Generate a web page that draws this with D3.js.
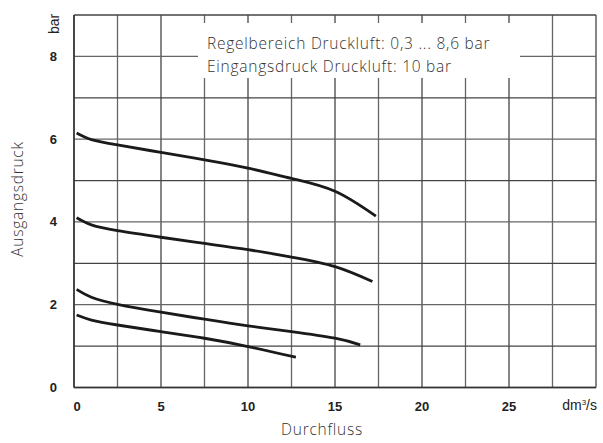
<!DOCTYPE html>
<html><head><meta charset="utf-8">
<script src="https://cdn.jsdelivr.net/npm/d3@7"></script>
<style>body{margin:0;background:#fff}svg{display:block}</style>
</head><body>
<script>
// Data
const flow1 = [0.15, 1, 2.5, 5, 7.5, 10, 12.5, 15, 17.35];
const press1 = [6.15, 5.99, 5.86, 5.68, 5.50, 5.30, 5.05, 4.74, 4.14];
const flow2 = [0.15, 1, 2.5, 5, 7.5, 10, 12.5, 15, 17.15];
const press2 = [4.10, 3.93, 3.79, 3.63, 3.48, 3.33, 3.15, 2.92, 2.56];
const flow3 = [0.15, 1, 2.5, 5, 7.5, 10, 12.5, 15, 16.45];
const press3 = [2.37, 2.18, 2.01, 1.82, 1.65, 1.49, 1.35, 1.19, 1.03];
const flow4 = [0.15, 1, 2.5, 5, 7.5, 10, 12.75];
const press4 = [1.75, 1.63, 1.51, 1.35, 1.19, 0.99, 0.73];
const xTicks = [0, 5, 10, 15, 20, 25];
const yTicks = [0, 2, 4, 6, 8];
const xGrid = d3.range(0, 30.01, 2.5);
const yGrid = d3.range(0, 9.01, 1);
const noteLines = ["Regelbereich Druckluft: 0,3 ... 8,6 bar", "Eingangsdruck Druckluft: 10 bar"];

const W = 603, H = 443;
const svg = d3.select("body").append("svg").attr("width", W).attr("height", H);
const x = d3.scaleLinear().domain([0, 30]).range([74, 596]);
const y = d3.scaleLinear().domain([0, 9]).range([387.5, 15]);
const lightFont = "'Open Sans', sans-serif";

// grid
const g = svg.append("g");
g.selectAll("line.v").data(xGrid).join("line")
  .attr("x1", d => x(d)).attr("x2", d => x(d))
  .attr("y1", y(0)).attr("y2", y(9))
  .attr("stroke", (d,i) => i % 2 ? "#666" : "#444").attr("stroke-width", 1.3);
g.selectAll("line.h").data(yGrid).join("line")
  .attr("x1", x(0)).attr("x2", x(30))
  .attr("y1", d => y(d)).attr("y2", d => y(d))
  .attr("stroke", (d,i) => i % 2 ? "#444" : "#666").attr("stroke-width", 1.3);
svg.append("line").attr("x1", x(0)).attr("x2", x(0)).attr("y1", y(0)).attr("y2", y(9)).attr("stroke", "#333").attr("stroke-width", 1.5);
svg.append("line").attr("x1", x(0)).attr("x2", x(30)).attr("y1", y(0)).attr("y2", y(0)).attr("stroke", "#333").attr("stroke-width", 1.5);

// note box
svg.append("rect").attr("x", 198).attr("y", 23).attr("width", 322).attr("height", 55).attr("fill", "#fff");
svg.append("g").selectAll("text").data(noteLines).join("text")
  .attr("x", 207).attr("y", (d,i) => 49 + i*22.5)
  .attr("font-family", lightFont).attr("font-weight", 300).attr("font-size", 15.5)
  .attr("letter-spacing", 0.75)
  .attr("fill", "#333").text(d => d);

// curves
const line = d3.line().x(d => x(d[0])).y(d => y(d[1])).curve(d3.curveNatural);
const series = [[flow1, press1], [flow2, press2], [flow3, press3], [flow4, press4]];
svg.append("g").selectAll("path").data(series).join("path")
  .attr("d", s => line(s[0].map((f,i) => [f, s[1][i]])))
  .attr("fill", "none").attr("stroke", "#1a1a1a").attr("stroke-width", 2.8);

// tick labels
svg.append("g").selectAll("text").data(xTicks).join("text")
  .attr("x", d => x(d) + (d === 0 ? 3 : 0)).attr("y", 411)
  .attr("text-anchor", "middle").attr("font-family", "Liberation Sans, Arial").attr("font-weight", "bold")
  .attr("font-size", 13).attr("fill", "#222").text(d => d);
svg.append("g").selectAll("text").data(yTicks).join("text")
  .attr("x", 57).attr("y", d => y(d) + 4.5)
  .attr("text-anchor", "end").attr("font-family", "Liberation Sans, Arial").attr("font-weight", "bold")
  .attr("font-size", 13).attr("fill", "#222").text(d => d);

// units
const u = svg.append("text").attr("x", 597).attr("y", 410).attr("text-anchor", "end")
  .attr("font-family", "Liberation Sans, Arial").attr("font-size", 14).attr("fill", "#222");
u.append("tspan").text("dm");
u.append("tspan").attr("font-size", 8).attr("dy", -5).text("3");
u.append("tspan").attr("dy", 5).text("/s");
svg.append("text").attr("transform", "translate(59,24) rotate(-90)").attr("text-anchor", "middle")
  .attr("font-family", "Liberation Sans, Arial").attr("font-size", 14).attr("fill", "#222").text("bar");

// axis titles
svg.append("text").attr("x", 322).attr("y", 435).attr("text-anchor", "middle")
  .attr("font-family", lightFont).attr("font-weight", 300).attr("font-size", 15.5).attr("letter-spacing", 0.75)
  .attr("fill", "#333").text("Durchfluss");
svg.append("text").attr("transform", "translate(23,199) rotate(-90)").attr("text-anchor", "middle")
  .attr("font-family", lightFont).attr("font-weight", 300).attr("font-size", 15.5).attr("letter-spacing", 0.75)
  .attr("fill", "#333").text("Ausgangsdruck");
</script>
</body></html>
